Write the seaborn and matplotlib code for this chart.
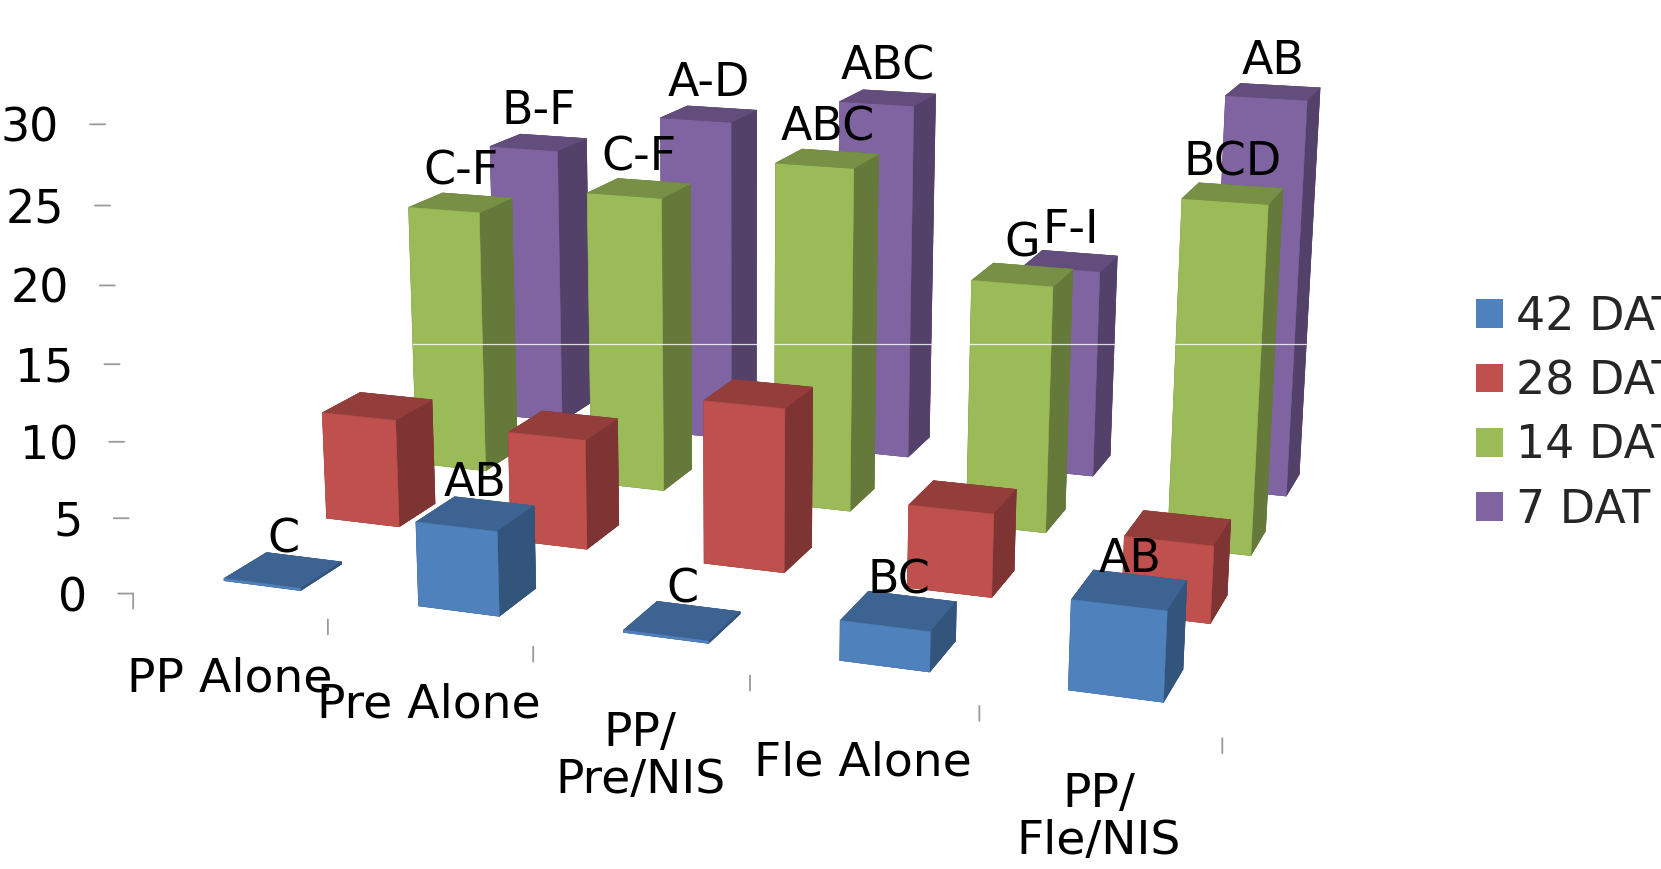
import numpy as np
import matplotlib
matplotlib.use("Agg")
import matplotlib.pyplot as plt
from matplotlib.patches import Patch
from matplotlib.lines import Line2D
import seaborn as sns

# Chart content
categories = ["PP Alone", "Pre Alone", "PP/\nPre/NIS", "Fle Alone", "PP/\nFle/NIS"]
series_names = ["42 DAT", "28 DAT", "14 DAT", "7 DAT"]
z_ticks = [0, 5, 10, 15, 20, 25, 30]

dat42 = [0.15, 5.5, 0.15, 2.5, 5.5]
dat28 = [7.5, 7.5, 11.0, 5.5, 5.0]
dat14 = [19.0, 21.0, 24.0, 17.0, 23.5]
dat7 = [21.0, 24.0, 26.0, 15.0, 28.0]
series_values = [dat42, dat28, dat14, dat7]

letters42 = ["C", "AB", "C", "BC", "AB"]
letters28 = ["", "", "", "", ""]
letters14 = ["C-F", "C-F", "ABC", "G", "BCD"]
letters7 = ["B-F", "A-D", "ABC", "F-I", "AB"]
series_letters = [letters42, letters28, letters14, letters7]

sns.set_theme(style="white")
plt.rcParams["font.family"] = ["Liberation Sans Narrow", "DejaVu Sans"]
palette = sns.color_palette(["#4F81BD", "#C0504D", "#9BBB59", "#8064A2"])

W_PX, H_PX = 1661, 869
fig = plt.figure(figsize=(W_PX / 100, H_PX / 100), dpi=100, facecolor="white")
# The 3D axes stay square, so give them a square big enough to hold the whole canvas.
ax = fig.add_axes([0, -(W_PX - H_PX) / 2 / H_PX, 1, W_PX / H_PX], projection="3d")
ax.set_axis_off()
ax.computed_zorder = False
ax.apply_aspect()

# Camera: world (category, series, value) against canvas pixels, solved as a projective fit.
camera_world = np.array([
    [0, 0, 0], [0, 0, 5], [0, 0, 10], [0, 0, 15], [0, 0, 20], [0, 0, 25], [0, 0, 30],
    [0, 4, 30], [0, 4, 25],
    [5, 4, 30], [5, 4, 25], [5, 4, 20], [5, 4, 15], [5, 4, 10], [5, 4, 5], [5, 4, 0],
    [1, 0, 0], [2, 0, 0], [3, 0, 0], [4, 0, 0], [5, 0, 0],
], dtype=float)
camera_pixels = np.array([
    [134, 594], [128, 517.6], [123.6, 442], [119.4, 364.5], [115.6, 285], [110, 205], [105.2, 123.7],
    [492, 8], [492, 72.6],
    [1390, 54], [1387, 124.4], [1382.6, 194], [1378, 263.7], [1374.8, 331], [1370, 398], [1365.5, 463],
    [328, 620], [533.6, 645.7], [749.7, 676.6], [979.4, 706.8], [1221.6, 738],
], dtype=float)


def solve_camera(world, pixels):
    view = ax.transData.inverted().transform(np.c_[pixels[:, 0], H_PX - pixels[:, 1]])
    rows = []
    for (x, y, z), (u, v) in zip(world, view):
        rows.append([x, y, z, 1, 0, 0, 0, 0, -u * x, -u * y, -u * z, -u])
        rows.append([0, 0, 0, 0, x, y, z, 1, -v * x, -v * y, -v * z, -v])
    p = np.linalg.svd(np.array(rows))[2][-1].reshape(3, 4)
    if p[2] @ np.array([2.5, 2, 15, 1]) < 0:
        p = -p
    p = p / (p[2] @ np.array([2.5, 2, 15, 1]))
    depth = 3.0 * p[2] - np.array([0, 0, 0, 1.0])
    return np.vstack([p[0], p[1], depth, p[2]])


camera = solve_camera(camera_world, camera_pixels)
ax.get_proj = lambda: camera
ax.M = camera


def project(x, y, z):
    h = camera @ np.array([x, y, z, 1.0])
    return h[0] / h[3], h[1] / h[3]


GRID = "#9a9a9a"
LW = 1.3
N_CAT, N_SER = len(categories), len(series_names)

# Gridlines along the left and back walls
for t in z_ticks:
    ax.plot([0, 0], [0, N_SER], [t, t], color=GRID, lw=LW, zorder=1)
    ax.plot([0, N_CAT], [N_SER, N_SER], [t, t], color=GRID, lw=LW, zorder=1)
# Floor outline and value axis
ax.plot([0, N_CAT], [0, 0], [0, 0], color=GRID, lw=LW, zorder=1)
ax.plot([N_CAT, N_CAT], [0, N_SER], [0, 0], color=GRID, lw=LW, zorder=1)
ax.plot([0, 0], [0, 0], [0, z_ticks[-1]], color=GRID, lw=LW, zorder=1)

# Tick marks are screen-aligned: horizontal on the value axis, vertical on the category axis
for t in z_ticks:
    ax.annotate("", xy=project(0, 0, t), xytext=(-15, 0), textcoords="offset pixels",
                arrowprops=dict(arrowstyle="-", color=GRID, lw=LW, shrinkA=0, shrinkB=0))
    ax.annotate(str(t), xy=project(0, 0, t), xytext=(-46, 0), textcoords="offset pixels",
                ha="right", va="center_baseline", fontsize=33, color="black", zorder=300)
for i in range(N_CAT + 1):
    ax.annotate("", xy=project(i, 0, 0), xytext=(0, -15), textcoords="offset pixels",
                arrowprops=dict(arrowstyle="-", color=GRID, lw=LW, shrinkA=0, shrinkB=0))
for i, name in enumerate(categories):
    ax.annotate(name, xy=project(i + 0.5, 0, 0), xytext=(0, -50), textcoords="offset pixels",
                ha="center", va="top", fontsize=34, color="black", linespacing=1.05, zorder=300)

# Bars, painted from the farthest to the nearest
BAR = 0.4
PAD = (1 - BAR) / 2
bars = []
for s, values in enumerate(series_values):
    for i, v in enumerate(values):
        w = (camera[3] @ np.array([i + 0.5, s + 0.5, v / 2, 1.0]))
        bars.append((w, s, i, v))
bars.sort(key=lambda b: -b[0])
for order, (_, s, i, v) in enumerate(bars):
    base = np.array(palette[s])
    top, side = tuple(base * 0.77), tuple(base * 0.65)
    front = tuple(base)
    faces = [side, top, front, side, side, side]
    ax.bar3d(i + PAD, s + PAD, 0, BAR, BAR, v, color=faces, edgecolor=faces, linewidth=0.4,
             shade=False, zorder=10 + order)
    label = series_letters[s][i]
    if label:
        ax.annotate(label, xy=project(i + 0.5, s + 0.5, v), xytext=(0, 8), textcoords="offset pixels",
                    ha="center", va="bottom", fontsize=33, color="black", zorder=200)

handles = [Patch(facecolor=c, edgecolor="none") for c in palette]
fig.legend(handles, series_names, loc="upper left", bbox_to_anchor=(1476 / W_PX, 1 - 295 / H_PX),
           borderaxespad=0, borderpad=0, frameon=False, fontsize=33, handlelength=0.59, handleheight=0.59,
           handletextpad=0.28, labelspacing=0.42)

# Thin white scan line running across the bars
fig.add_artist(Line2D([413 / W_PX, 1306 / W_PX], [1 - 344 / H_PX] * 2, color="white", lw=0.9, alpha=0.8))

fig.savefig("out.png", dpi=100, facecolor="white")
